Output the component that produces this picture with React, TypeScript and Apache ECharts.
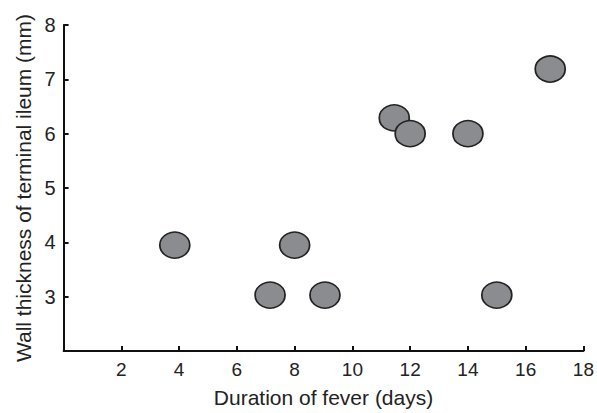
import React, { useEffect, useRef } from "react";
import * as echarts from "echarts";

const feverDays = [3.85, 7.15, 8.0, 9.05, 11.45, 12.0, 14.0, 15.0, 16.85];
const wallThickness = [3.95, 3.03, 3.95, 3.03, 6.29, 6.0, 6.0, 3.03, 7.19];
const xTitle = "Duration of fever (days)";
const yTitle = "Wall thickness of terminal ileum (mm)";

export default function App() {
  const ref = useRef<HTMLDivElement>(null);
  useEffect(() => {
    if (!ref.current) return;
    const chart = echarts.init(ref.current, undefined, { renderer: "svg" });
    const font = "Liberation Sans, Arial, sans-serif";
    const data = feverDays.map((x, i) => [x, wallThickness[i]]);
    chart.setOption({
      animation: false,
      backgroundColor: "#ffffff",
      grid: { left: 63.6, right: 9, top: 25, bottom: 59.4, containLabel: false },
      xAxis: {
        type: "value",
        min: 0,
        max: 18,
        interval: 2,
        name: xTitle,
        nameLocation: "middle",
        nameGap: 36,
        nameTextStyle: { fontFamily: font, fontSize: 21, color: "#222" },
        axisLine: { show: true, lineStyle: { color: "#111", width: 2 } },
        axisTick: { show: true, inside: true, length: 5, lineStyle: { color: "#111", width: 2 } },
        axisLabel: {
          fontFamily: font,
          fontSize: 19,
          color: "#222",
          margin: 9,
          formatter: (v: number) => (v === 0 ? "" : String(v)),
        },
        splitLine: { show: false },
      },
      yAxis: {
        type: "value",
        min: 2,
        max: 8,
        interval: 1,
        name: yTitle,
        nameLocation: "middle",
        nameGap: 30,
        nameTextStyle: { fontFamily: font, fontSize: 21, color: "#222" },
        axisLine: { show: true, lineStyle: { color: "#111", width: 2 } },
        axisTick: { show: true, inside: true, length: 5, lineStyle: { color: "#111", width: 2 } },
        axisLabel: {
          fontFamily: font,
          fontSize: 20,
          color: "#222",
          margin: 8,
          formatter: (v: number) => (v === 2 ? "" : String(v)),
        },
        splitLine: { show: false },
      },
      series: [
        {
          type: "scatter",
          data,
          symbol: "circle",
          symbolSize: [30, 26],
          itemStyle: { color: "#8b8c8f", borderColor: "#222", borderWidth: 1.6, opacity: 1 },
        },
      ],
    });
    return () => chart.dispose();
  }, []);
  return <div ref={ref} style={{ width: 597, height: 413, position: "absolute", left: 0, top: 0 }} />;
}
